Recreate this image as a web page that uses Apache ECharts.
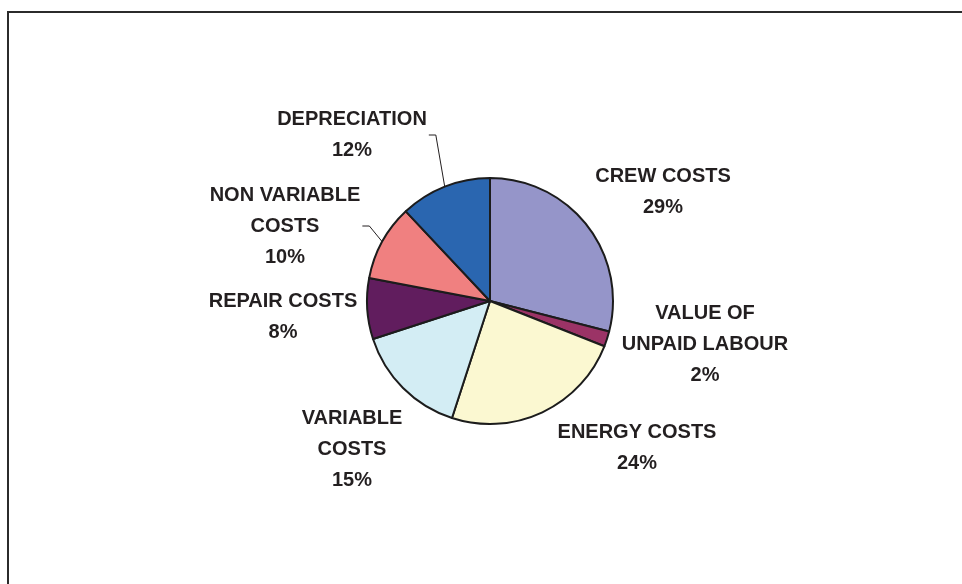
<!DOCTYPE html>
<html>
<head>
<meta charset="utf-8">
<script src="https://cdn.jsdelivr.net/npm/echarts@6/dist/echarts.min.js"></script>
<style>
  html, body { margin: 0; padding: 0; background: #fff; }
  #chart { width: 962px; height: 584px; }
</style>
</head>
<body>
<div id="chart"></div>
<script>
// cost breakdown, clockwise from 12 o'clock
const categories = [
    'CREW COSTS',
    'VALUE OF\nUNPAID LABOUR',
    'ENERGY COSTS',
    'VARIABLE\nCOSTS',
    'REPAIR COSTS',
    'NON VARIABLE\nCOSTS',
    'DEPRECIATION'
];
const shares = [29, 2, 24, 15, 8, 10, 12];
const colors = ['#9595c9', '#9b3366', '#fbf8d1', '#d3edf4', '#611d5e', '#f08080', '#2a66b0'];

// where each label block sits (centre of the text block)
const labelPos = [
    [663, 192], [705, 344], [637, 448], [352, 449], [283, 317], [285, 226], [352, 135]
];
const withLeader = [false, false, false, false, false, true, true];

const chart = echarts.init(document.getElementById('chart'));

const option = {
    animation: false,
    backgroundColor: '#fff',
    graphic: [
        {
            type: 'rect',
            shape: { x: 8, y: 12, width: 1200, height: 1000 },
            style: { fill: 'none', stroke: '#2b2b2b', lineWidth: 2 }
        }
    ],
    series: [
        {
            type: 'pie',
            center: [490, 301],
            radius: 123,
            startAngle: 90,
            clockwise: true,
            itemStyle: { borderColor: '#1c1c1c', borderWidth: 2 },
            label: {
                show: true,
                formatter: '{b}\n{d}%',
                fontFamily: 'Liberation Sans, Arial, sans-serif',
                fontWeight: 'bold',
                fontSize: 20,
                lineHeight: 31,
                color: '#231f20',
                align: 'center'
            },
            labelLine: {
                show: true,
                lineStyle: { color: '#231f20', width: 1 }
            },
            labelLayout: function (params) {
                const i = params.dataIndex;
                const p = labelPos[i];
                const out = { x: p[0], y: p[1], align: 'center', verticalAlign: 'middle' };
                if (withLeader[i] && params.labelLinePoints) {
                    const start = params.labelLinePoints[0];
                    const r = params.labelRect;
                    const endX = p[0] + r.width / 2 + 2;
                    const endY = p[1];
                    out.labelLinePoints = [start, [endX + 7, endY], [endX, endY]];
                } else {
                    out.labelLinePoints = [[0, 0], [0, 0], [0, 0]];
                }
                return out;
            },
            data: categories.map(function (name, i) {
                return {
                    name: name,
                    value: shares[i],
                    itemStyle: { color: colors[i] },
                    labelLine: { show: withLeader[i] }
                };
            })
        }
    ]
};

chart.setOption(option);
</script>
</body>
</html>
